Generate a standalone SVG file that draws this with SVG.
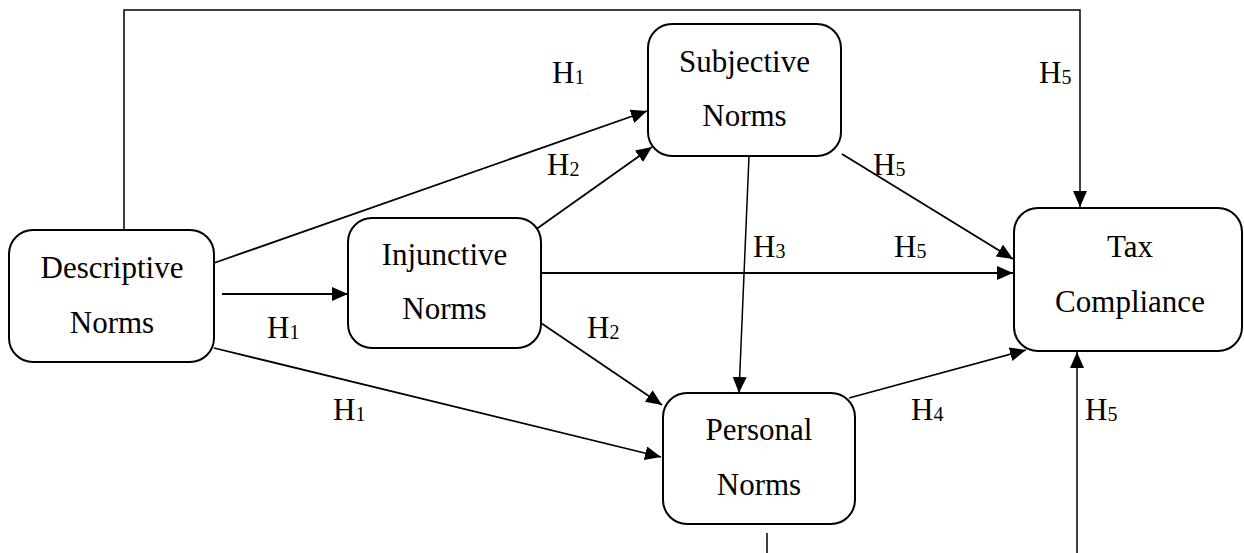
<svg xmlns="http://www.w3.org/2000/svg" width="1244" height="553" viewBox="0 0 1244 553">
<defs>
<marker id="ah" markerUnits="userSpaceOnUse" markerWidth="17" markerHeight="15" refX="16" refY="7" orient="auto">
<path d="M0,0 L16,7 L0,14 z" fill="#000"/>
</marker>
<style>
.box{fill:#fff;stroke:#000;stroke-width:2}
.t{font-family:"Liberation Serif","Times New Roman",serif;font-size:31px;fill:#000;text-anchor:middle}
.l{font-family:"Liberation Serif","Times New Roman",serif;font-size:31px;fill:#000}
.s{font-size:20px}
.c{fill:none;stroke:#000;stroke-width:1.8}
.a{marker-end:url(#ah)}
.th{fill:none;stroke:#000;stroke-width:1.5}
</style>
</defs>
<rect width="1244" height="553" fill="#fff"/>
<g id="connectors">
<path class="th a" d="M124,231 V10 H1080 V207"/>
<line class="c a" x1="222" y1="294" x2="348" y2="294"/>
<line class="c a" x1="214" y1="263" x2="647" y2="111"/>
<line class="c a" x1="535" y1="230" x2="652" y2="147"/>
<line class="c a" x1="541" y1="273" x2="1013" y2="273"/>
<line class="c a" x1="842" y1="154" x2="1013" y2="259"/>
<line class="th a" x1="749" y1="156" x2="739" y2="393"/>
<line class="c a" x1="214" y1="348" x2="661" y2="457"/>
<line class="c a" x1="541" y1="323" x2="662" y2="405"/>
<line class="c a" x1="849" y1="398" x2="1026" y2="350"/>
<line class="th a" x1="1077" y1="553" x2="1077" y2="352"/>
<line class="th" x1="767" y1="533" x2="767" y2="553"/>
</g>
<g id="labels">
<text class="l" x="552" y="83">H<tspan class="s" dy="1">1</tspan></text>
<text class="l" x="1039" y="83">H<tspan class="s" dy="1">5</tspan></text>
<text class="l" x="547" y="175">H<tspan class="s" dy="1">2</tspan></text>
<text class="l" x="873" y="175">H<tspan class="s" dy="1">5</tspan></text>
<text class="l" x="753" y="257">H<tspan class="s" dy="1">3</tspan></text>
<text class="l" x="894" y="257">H<tspan class="s" dy="1">5</tspan></text>
<text class="l" x="267" y="338">H<tspan class="s" dy="1">1</tspan></text>
<text class="l" x="587" y="338">H<tspan class="s" dy="1">2</tspan></text>
<text class="l" x="333" y="420">H<tspan class="s" dy="1">1</tspan></text>
<text class="l" x="911" y="420">H<tspan class="s" dy="1">4</tspan></text>
<text class="l" x="1085" y="420">H<tspan class="s" dy="1">5</tspan></text>
</g>
<g id="descriptive">
<rect class="box" x="9" y="230" width="205" height="132" rx="24"/>
<text class="t" x="112" y="278">Descriptive</text>
<text class="t" x="112" y="333">Norms</text>
</g>
<g id="injunctive">
<rect class="box" x="348" y="218" width="193" height="130" rx="24"/>
<text class="t" x="444.5" y="265">Injunctive</text>
<text class="t" x="444.5" y="319">Norms</text>
</g>
<g id="subjective">
<rect class="box" x="648" y="24" width="193" height="132" rx="24"/>
<text class="t" x="744.5" y="72">Subjective</text>
<text class="t" x="744.5" y="126">Norms</text>
</g>
<g id="tax">
<rect class="box" x="1014" y="208" width="228" height="143" rx="24"/>
<text class="t" x="1130" y="257">Tax</text>
<text class="t" x="1130" y="312">Compliance</text>
</g>
<g id="personal">
<rect class="box" x="663" y="393" width="192" height="131" rx="24"/>
<text class="t" x="759" y="440">Personal</text>
<text class="t" x="759" y="495">Norms</text>
</g>
</svg>
